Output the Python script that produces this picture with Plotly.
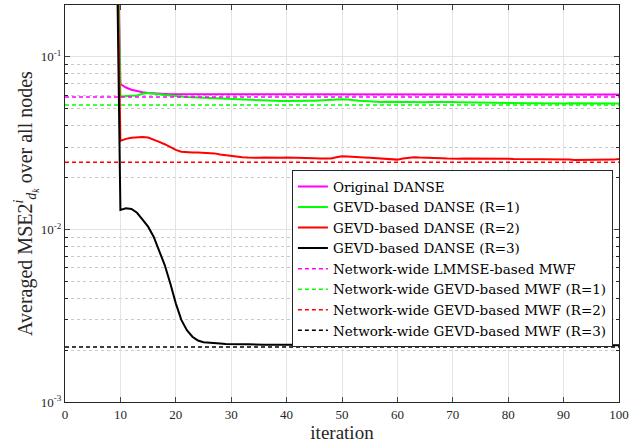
import plotly.graph_objects as go

iterations = list(range(1, 101))

# values for iterations 1..9 are far above the visible range
early = [3.0, 3.0, 3.0, 3.0, 3.0, 3.0, 3.0, 3.0, 3.0]

original_danse = early + [
    0.0697, 0.0665, 0.0645, 0.0632, 0.0624, 0.0618, 0.0614, 0.0611, 0.0609, 0.0608,
    0.0607, 0.0607, 0.0606, 0.0606, 0.0606, 0.0606, 0.0606, 0.0606, 0.0606, 0.0606,
    0.0606, 0.0606, 0.0606, 0.0606, 0.0606, 0.0606, 0.0606, 0.0606, 0.0606, 0.0606,
    0.0606, 0.0606, 0.0606, 0.0606, 0.0606, 0.0606, 0.0606, 0.0606, 0.0606, 0.0606,
    0.0606, 0.0606, 0.0606, 0.0606, 0.0606, 0.0606, 0.0606, 0.0606, 0.0606, 0.0606,
    0.0606, 0.0606, 0.0606, 0.0606, 0.0606, 0.0606, 0.0606, 0.0606, 0.0606, 0.0606,
    0.0606, 0.0606, 0.0606, 0.0606, 0.0606, 0.0606, 0.0606, 0.0606, 0.0606, 0.0606,
    0.0606, 0.0606, 0.0606, 0.0606, 0.0606, 0.0606, 0.0606, 0.0606, 0.0606, 0.0606,
    0.0606, 0.0606, 0.0606, 0.0606, 0.0606, 0.0606, 0.0606, 0.0606, 0.0606, 0.0606,
    0.0606,
]

gevd_r1 = early + [
    0.0589, 0.0594, 0.0596, 0.0598, 0.0612, 0.0617, 0.0614, 0.0608, 0.0602, 0.0597,
    0.0594, 0.0590, 0.0586, 0.0584, 0.0582, 0.0580, 0.0578, 0.0577, 0.0576, 0.0574,
    0.0573, 0.0571, 0.0570, 0.0568, 0.0566, 0.0564, 0.0558, 0.0556, 0.0555, 0.0555,
    0.0556, 0.0555, 0.0556, 0.0556, 0.0557, 0.0558, 0.0560, 0.0563, 0.0566, 0.0568,
    0.0568, 0.0566, 0.0560, 0.0557, 0.0556, 0.0553, 0.0548, 0.0548, 0.0549, 0.0548,
    0.0549, 0.0548, 0.0547, 0.0549, 0.0548, 0.0547, 0.0548, 0.0549, 0.0548, 0.0547,
    0.0548, 0.0547, 0.0546, 0.0546, 0.0545, 0.0544, 0.0544, 0.0543, 0.0542, 0.0542,
    0.0541, 0.0540, 0.0540, 0.0539, 0.0539, 0.0539, 0.0538, 0.0538, 0.0539, 0.0539,
    0.0538, 0.0539, 0.0539, 0.0540, 0.0539, 0.0538, 0.0539, 0.0538, 0.0538, 0.0539,
    0.0538,
]

gevd_r2 = early + [
    0.0326, 0.0335, 0.0340, 0.0343, 0.0343, 0.0341, 0.0333, 0.0322, 0.0312, 0.0300,
    0.0289, 0.0282, 0.0280, 0.0279, 0.0279, 0.0278, 0.0277, 0.0276, 0.0272, 0.0269,
    0.0266, 0.0264, 0.0262, 0.0261, 0.0260, 0.0260, 0.0261, 0.0260, 0.0259, 0.0260,
    0.0261, 0.0261, 0.0260, 0.0261, 0.0260, 0.0259, 0.0258, 0.0257, 0.0258, 0.0262,
    0.0266, 0.0265, 0.0263, 0.0262, 0.0261, 0.0260, 0.0259, 0.0258, 0.0257, 0.0255,
    0.0254, 0.0258, 0.0261, 0.0262, 0.0261, 0.0261, 0.0260, 0.0260, 0.0259, 0.0258,
    0.0257, 0.0257, 0.0258, 0.0258, 0.0259, 0.0258, 0.0258, 0.0257, 0.0257, 0.0257,
    0.0257, 0.0256, 0.0256, 0.0255, 0.0255, 0.0255, 0.0255, 0.0254, 0.0254, 0.0254,
    0.0254, 0.0254, 0.0253, 0.0253, 0.0253, 0.0253, 0.0253, 0.0253, 0.0253, 0.0254,
    0.0256,
]

gevd_r3 = early + [
    0.01297, 0.01326, 0.01316, 0.0125, 0.0114, 0.01038, 0.00908, 0.0076, 0.00622, 0.00488,
    0.00373, 0.00299, 0.00261, 0.00239, 0.00227, 0.00222, 0.00220, 0.00219, 0.00218, 0.00217,
    0.00216, 0.00216, 0.00216, 0.00216, 0.00215, 0.00215, 0.00215, 0.00215, 0.00215, 0.00215,
    0.00215, 0.00215, 0.00215, 0.00215, 0.00214, 0.00214, 0.00214, 0.00214, 0.00214, 0.00214,
    0.00214, 0.00214, 0.00214, 0.00214, 0.00214, 0.00214, 0.00214, 0.00214, 0.00214, 0.00214,
    0.00214, 0.00214, 0.00213, 0.00213, 0.00213, 0.00213, 0.00213, 0.00213, 0.00213, 0.00213,
    0.00213, 0.00213, 0.00213, 0.00213, 0.00213, 0.00213, 0.00213, 0.00213, 0.00213, 0.00213,
    0.00213, 0.00213, 0.00213, 0.00213, 0.00213, 0.00213, 0.00213, 0.00213, 0.00213, 0.00213,
    0.00213, 0.00213, 0.00213, 0.00213, 0.00213, 0.00213, 0.00213, 0.00213, 0.00213, 0.00213,
    0.00213,
]

ref_x = [0, 100]
ref_lmmse = 0.0586
ref_gevd_r1 = 0.0527
ref_gevd_r2 = 0.0245
ref_gevd_r3 = 0.00208

solid_names = ["Original DANSE", "GEVD-based DANSE (R=1)",
               "GEVD-based DANSE (R=2)", "GEVD-based DANSE (R=3)"]
dashed_names = ["Network-wide LMMSE-based MWF", "Network-wide GEVD-based MWF (R=1)",
                "Network-wide GEVD-based MWF (R=2)", "Network-wide GEVD-based MWF (R=3)"]
colors = ["#ff00ff", "#00ff00", "#ff0000", "#000000"]

x_ticks = [0, 10, 20, 30, 40, 50, 60, 70, 80, 90, 100]
y_ticks = [1e-3, 1e-2, 1e-1]
y_tick_text = ["10<sup>-3</sup>", "10<sup>-2</sup>", "10<sup>-1</sup>"]
y_minor = [k * 10 ** e for e in (-3, -2, -1) for k in range(2, 10)]

fig = go.Figure()
for name, ys, c in zip(solid_names, [original_danse, gevd_r1, gevd_r2, gevd_r3], colors):
    fig.add_trace(go.Scatter(x=iterations, y=ys, mode="lines", name=name,
                             line=dict(color=c, width=2)))
for name, v, c in zip(dashed_names, [ref_lmmse, ref_gevd_r1, ref_gevd_r2, ref_gevd_r3], colors):
    fig.add_trace(go.Scatter(x=ref_x, y=[v, v], mode="lines", name=name,
                             line=dict(color=c, width=1.5, dash="4px,3px")))

serif = "Liberation Serif, Times New Roman, serif"
legend_font = "DejaVu Serif, serif"
fig.update_layout(
    width=642, height=445,
    margin=dict(l=65, r=23, t=5, b=43),
    paper_bgcolor="white", plot_bgcolor="white",
    font=dict(family=serif, color="#262626", size=13),
    showlegend=True,
    legend=dict(x=0.989, y=0.584, xanchor="right", yanchor="top",
                bgcolor="white", bordercolor="#262626", borderwidth=1,
                font=dict(family=legend_font, size=13.5, color="#000000"),
                itemwidth=30, tracegroupgap=0),
)
fig.update_xaxes(
    range=[0, 100], tickvals=x_ticks, ticks="inside", ticklen=5,
    showline=True, linecolor="#262626", linewidth=1, mirror="ticks",
    showgrid=True, gridcolor="#e3e3e3", gridwidth=1, zeroline=False,
    tickfont=dict(size=13, family=serif),
    title=dict(text="iteration", font=dict(size=19, family=serif), standoff=3),
)
fig.update_yaxes(
    type="log", range=[-3, -0.699], tickvals=y_ticks, ticktext=y_tick_text,
    ticks="inside", ticklen=5,
    showline=True, linecolor="#262626", linewidth=1, mirror="ticks",
    showgrid=True, gridcolor="#e3e3e3", gridwidth=1, zeroline=False,
    tickfont=dict(size=13, family=serif),
    minor=dict(tickvals=y_minor, ticks="inside", ticklen=3, showgrid=True,
               gridcolor="#c8c8c8", griddash="dot", gridwidth=1, tickcolor="#262626"),
    title=dict(text="Averaged MSE2<sup><i>i</i></sup><sub><i>d<sub>k</sub></i></sub> over all nodes",
               font=dict(size=20, family=serif), standoff=0),
)
fig.write_html("out.html", config={"displayModeBar": False},
               post_script="document.body.style.margin='0px';")
